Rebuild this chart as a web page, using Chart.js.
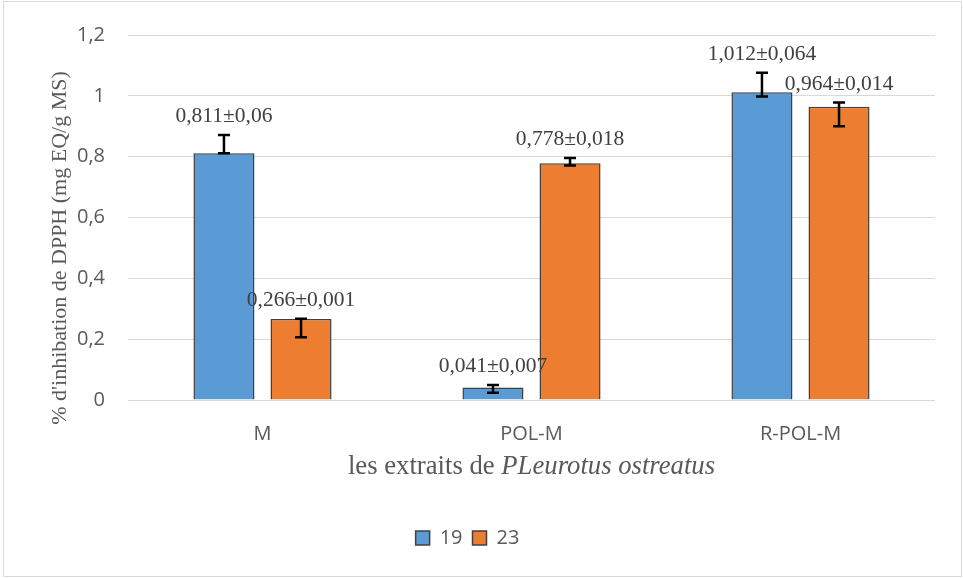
<!DOCTYPE html>
<html>
<head>
<meta charset="utf-8">
<script src="https://cdn.jsdelivr.net/npm/chart.js@4.4.0/dist/chart.umd.min.js"></script>
<style>
html, body { margin: 0; padding: 0; background: #fff; }
#wrap { position: relative; width: 963px; height: 578px; }
</style>
</head>
<body>
<div id="wrap"><canvas id="chart" width="963" height="578"></canvas></div>
<script>
let categories = ['M', 'POL-M', 'R-POL-M'];
let seriesNames = ['19', '23'];
let values19 = [0.811, 0.041, 1.012];
let values23 = [0.266, 0.778, 0.964];
// +/- shown in the labels
let sd19 = [0.06, 0.007, 0.064];
let sd23 = [0.001, 0.018, 0.014];
// error bar lengths as drawn (up / down)
let errUp19 = [0.06, 0.008, 0.064];
let errDown19 = [0, 0.017, 0.014];
let errUp23 = [0.001, 0.018, 0.014];
let errDown23 = [0.06, 0.007, 0.064];

let tickFont = '"Open Sans", "Liberation Sans", sans-serif';
let serif = '"Liberation Serif", "DejaVu Serif", serif';

function fr(n) {
    return String(n).replace('.', ',');
}

let borderPlugin = {
    id: 'frame',
    beforeDraw: function(chart) {
        let ctx = chart.ctx;
        ctx.save();
        ctx.fillStyle = '#ffffff';
        ctx.fillRect(0, 0, chart.width, chart.height);
        ctx.strokeStyle = '#d9d9d9';
        ctx.lineWidth = 1;
        ctx.strokeRect(3.5, 1.5, 958, 575);
        ctx.restore();
    }
};

let errorPlugin = {
    id: 'errors',
    afterDatasetsDraw: function(chart) {
        let ctx = chart.ctx;
        let y = chart.scales.y;
        let ups = [errUp19, errUp23];
        let downs = [errDown19, errDown23];
        let sds = [sd19, sd23];
        ctx.save();
        chart.data.datasets.forEach(function(ds, d) {
            let meta = chart.getDatasetMeta(d);
            meta.data.forEach(function(bar, i) {
                let v = ds.data[i];
                let top = y.getPixelForValue(v + ups[d][i]);
                let bot = y.getPixelForValue(v - downs[d][i]);
                ctx.strokeStyle = '#000000';
                ctx.lineWidth = 2.5;
                ctx.beginPath();
                ctx.moveTo(bar.x, top);
                ctx.lineTo(bar.x, bot);
                ctx.moveTo(bar.x - 6, top);
                ctx.lineTo(bar.x + 6, top);
                ctx.moveTo(bar.x - 6, bot);
                ctx.lineTo(bar.x + 6, bot);
                ctx.stroke();

                let labelY = Math.min(top, bar.y) - 13;
                ctx.fillStyle = '#404040';
                ctx.font = '21.5px ' + serif;
                ctx.textAlign = 'center';
                ctx.textBaseline = 'alphabetic';
                ctx.fillText(fr(v) + '±' + fr(sds[d][i]), bar.x, labelY);
            });
        });
        ctx.restore();
    }
};

let titlePlugin = {
    id: 'titles',
    afterDraw: function(chart) {
        let ctx = chart.ctx;
        let area = chart.chartArea;
        ctx.save();
        ctx.fillStyle = '#595959';
        ctx.textBaseline = 'alphabetic';
        ctx.textAlign = 'left';
        let a = 'les extraits de ';
        let b = 'PLeurotus ostreatus';
        ctx.font = '26.7px ' + serif;
        let wa = ctx.measureText(a).width;
        ctx.font = 'italic 26.7px ' + serif;
        let wb = ctx.measureText(b).width;
        let x0 = (area.left + area.right) / 2 - (wa + wb) / 2;
        ctx.font = '26.7px ' + serif;
        ctx.fillText(a, x0, 474);
        ctx.font = 'italic 26.7px ' + serif;
        ctx.fillText(b, x0 + wa, 474);

        ctx.translate(60, 248);
        ctx.rotate(-Math.PI / 2);
        ctx.font = '22px ' + serif;
        ctx.textAlign = 'center';
        ctx.textBaseline = 'middle';
        ctx.fillText("% d'inhibation de DPPH (mg EQ/g MS)", 0, 0);
        ctx.restore();
    }
};

let barChart = new Chart(document.getElementById('chart'), {
    type: 'bar',
    data: {
        labels: categories,
        datasets: [
            {
                label: seriesNames[0],
                data: values19,
                backgroundColor: '#5b9bd5',
                borderColor: '#404040',
                borderWidth: 1.5,
                categoryPercentage: 0.573,
                barPercentage: 0.792
            },
            {
                label: seriesNames[1],
                data: values23,
                backgroundColor: '#ed7d31',
                borderColor: '#404040',
                borderWidth: 1.5,
                categoryPercentage: 0.573,
                barPercentage: 0.792
            }
        ]
    },
    options: {
        responsive: false,
        devicePixelRatio: 1,
        animation: false,
        layout: {padding: {top: 18, right: 28, bottom: 20, left: 0}},
        plugins: {
            legend: {
                position: 'bottom',
                labels: {
                    boxWidth: 14,
                    boxHeight: 14,
                    padding: 10,
                    color: '#595959',
                    font: {family: tickFont, size: 20}
                }
            },
            tooltip: {enabled: false}
        },
        scales: {
            x: {
                grid: {display: false},
                border: {display: false},
                ticks: {color: '#595959', padding: 14, font: {family: tickFont, size: 20}},
                afterFit: function(scale) { scale.height = 118; }
            },
            y: {
                min: 0,
                max: 1.2,
                grid: {color: '#d9d9d9', lineWidth: 1, drawTicks: false},
                border: {display: false},
                ticks: {
                    stepSize: 0.2,
                    padding: 23,
                    color: '#595959',
                    font: {family: tickFont, size: 20},
                    callback: function(v) { return fr(Math.round(v * 10) / 10); }
                },
                afterFit: function(scale) { scale.width = 128; }
            }
        }
    },
    plugins: [borderPlugin, errorPlugin, titlePlugin]
});
</script>
</body>
</html>
